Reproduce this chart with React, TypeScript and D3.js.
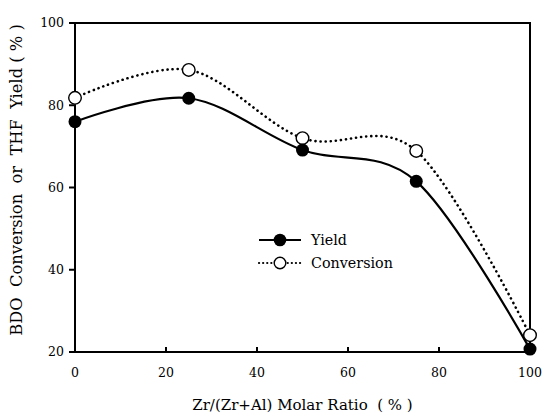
import * as d3 from 'd3'

const ratios = [0, 25, 50, 75, 100]
const yieldValues = [76.0, 81.7, 69.1, 61.5, 20.7]
const conversionValues = [81.8, 88.6, 72.0, 68.9, 24.1]
const xTickValues = [0, 20, 40, 60, 80, 100]
const yTickValues = [20, 40, 60, 80, 100]

type Pt = [number, number]

export default function App() {
  const width = 550
  const height = 418
  const margin = { top: 23, right: 20, bottom: 66, left: 75 }
  const innerW = width - margin.left - margin.right
  const innerH = height - margin.top - margin.bottom

  const xScale = d3.scaleLinear().domain([0, 100]).range([0, innerW])
  const yScale = d3.scaleLinear().domain([20, 100]).range([innerH, 0])

  const line = d3
    .line<Pt>()
    .x((d) => xScale(d[0]))
    .y((d) => yScale(d[1]))
    .curve(d3.curveCardinal.tension(0))

  const yieldPts: Pt[] = ratios.map((r, i) => [r, yieldValues[i]])
  const convPts: Pt[] = ratios.map((r, i) => [r, conversionValues[i]])

  const font = '"DejaVu Serif", serif'

  return (
    <svg
      width={width}
      height={height}
      style={{ position: 'absolute', left: 0, top: 0, background: '#fff', fontFamily: font }}
    >
      <g transform={`translate(${margin.left},${margin.top})`}>
        {/* frame */}
        <rect width={innerW} height={innerH} fill="none" stroke="#000" strokeWidth={2} />

        {/* x ticks (inward) */}
        <g fontSize={12.5} textAnchor="middle">
          {xTickValues.map((v) => (
            <g key={v} transform={`translate(${xScale(v)},${innerH})`}>
              <line y2={-5} stroke="#000" strokeWidth={2} />
              <text y={25} fill="#000">
                {v}
              </text>
            </g>
          ))}
        </g>

        {/* y ticks (outward) */}
        <g fontSize={12.5} textAnchor="end">
          {yTickValues.map((v) => (
            <g key={v} transform={`translate(0,${yScale(v)})`}>
              <line x2={-6} stroke="#000" strokeWidth={2} />
              <text x={-11} dy="0.35em" fill="#000">
                {v}
              </text>
            </g>
          ))}
        </g>

        {/* conversion (dotted, open circles) */}
        <path
          d={line(convPts)!}
          fill="none"
          stroke="#000"
          strokeWidth={2.6}
          strokeDasharray="0.1 5"
          strokeLinecap="round"
        />
        {/* yield (solid, filled circles) */}
        <path d={line(yieldPts)!} fill="none" stroke="#000" strokeWidth={2.2} />

        {convPts.map((d) => (
          <circle
            key={`c${d[0]}`}
            cx={xScale(d[0])}
            cy={yScale(d[1])}
            r={6.3}
            fill="#fff"
            stroke="#000"
            strokeWidth={1.4}
          />
        ))}
        {yieldPts.map((d) => (
          <circle key={`y${d[0]}`} cx={xScale(d[0])} cy={yScale(d[1])} r={6.5} fill="#000" />
        ))}

        {/* legend */}
        <g fontSize={14.3} transform={`translate(${259 - margin.left},${240 - margin.top})`}>
          <line x1={0} x2={42} stroke="#000" strokeWidth={2.2} />
          <circle cx={21} r={6.3} fill="#000" />
          <text x={52} dy="0.35em">
            Yield
          </text>
          <g transform="translate(0,23)">
            <line
              x1={0}
              x2={42}
              stroke="#000"
              strokeWidth={2.2}
              strokeDasharray="0.1 4"
              strokeLinecap="round"
            />
            <circle cx={21} r={5.8} fill="#fff" stroke="#000" strokeWidth={1.4} />
            <text x={52} dy="0.35em">
              Conversion
            </text>
          </g>
        </g>
      </g>

      {/* axis titles */}
      <text
        x={margin.left + innerW / 2}
        y={410}
        fontSize={15}
        textAnchor="middle"
        style={{ whiteSpace: 'pre' }}
      >
        {'Zr/(Zr+Al) Molar Ratio  ( % )'}
      </text>
      <text
        transform={`translate(22,180) rotate(-90)`}
        fontSize={16.3}
        textAnchor="middle"
        style={{ whiteSpace: 'pre' }}
      >
        {'BDO  Conversion  or  THF  Yield ( % )'}
      </text>
    </svg>
  )
}
